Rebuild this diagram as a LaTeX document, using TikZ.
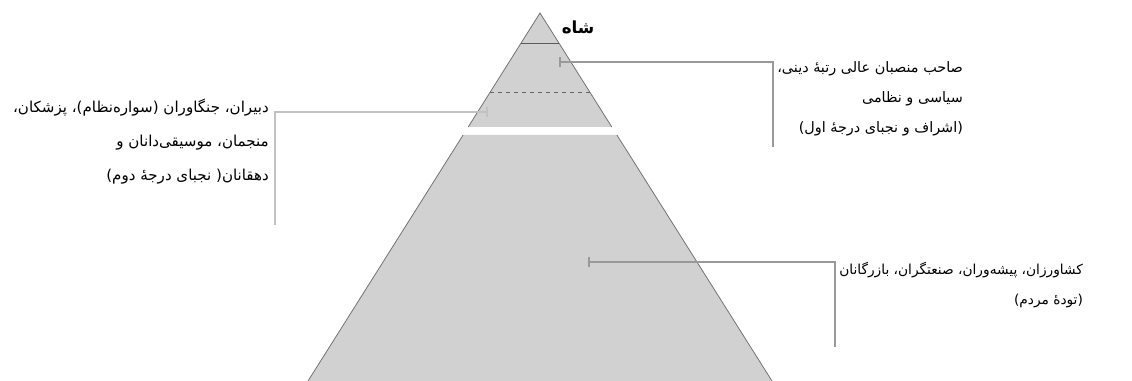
\documentclass[tikz,border=0pt]{standalone}
\usepackage{fontspec}
\newfontfamily\arabicfont[Script=Arabic]{DejaVu Sans}
\TeXXeTstate=1
\usetikzlibrary{arrows.meta,positioning}

\begin{document}
\begin{tikzpicture}[
  x=0.75pt, y=-0.75pt,
  layer/.style={fill=black!18},
  edge/.style={draw=black!55, line width=0.6pt},
  lbl/.style={font=\arabicfont\fontsize{10.3}{22.5}\selectfont, align=right, inner sep=0pt},
  call/.style={draw=black!40, line width=1.8pt, {Bar[width=8pt,line width=1.8pt]}-},
  calllight/.style={call, draw=black!24, line width=2.2pt},
]
\useasboundingbox (0,0) rectangle (1132,381);

% pyramid: apex block and the people below the gap
\fill[layer] (540,13) -- (611.8,127) -- (468.2,127) -- cycle;
\draw[edge] (468.2,127) -- (540,13) -- (611.8,127);
\fill[layer] (463.1,135) -- (616.9,135) -- (772,381) -- (308,381) -- cycle;
\draw[edge] (308,381) -- (463.1,135);
\draw[edge] (616.9,135) -- (772,381);
\draw[black!65, line width=0.6pt] (521,43) -- (559,43);
\draw[black!60, line width=0.6pt, dashed] (490,92) -- (590,92);

\node[font=\arabicfont\bfseries\fontsize{12.5}{15}\selectfont, inner sep=0pt] (shah) at (578,27) {\beginR شاه\endR};

% first rank
\coordinate (highTick) at (559,62);
\coordinate (highBend) at (773,62);
\coordinate (highEnd) at (773,147);
\node[lbl, anchor=north west, font=\arabicfont\fontsize{10.8}{22.5}\selectfont] (high) at (777,61)
  {\beginR صاحب منصبان عالی رتبهٔ دینی،\endR\\
   \beginR سیاسی و نظامی\endR\\
   \beginR (اشراف و نجبای درجهٔ اول)\endR};
\draw[call] (highTick) -- (highBend) -- (highEnd);

% second rank
\coordinate (midTick) at (488,112);
\coordinate (midBend) at (275,112);
\coordinate (midEnd) at (275,225);
\node[lbl, anchor=north east, font=\arabicfont\fontsize{11.3}{25.3}\selectfont] (mid) at (269,99)
  {\beginR دبیران، جنگاوران (سواره‌نظام)، پزشکان،\endR\\
   \beginR منجمان، موسیقی‌دانان و\endR\\
   \beginR دهقانان( نجبای درجهٔ دوم)\endR};
\draw[calllight] (midTick) -- (midBend) -- (midEnd);

% common people
\coordinate (lowTick) at (588,262);
\coordinate (lowBend) at (835,262);
\coordinate (lowEnd) at (835,347);
\node[lbl, anchor=north west] (low) at (839,262)
  {\beginR کشاورزان، پیشه‌وران، صنعتگران، بازرگانان\endR\\
   \beginR (تودهٔ مردم)\endR};
\draw[call] (lowTick) -- (lowBend) -- (lowEnd);
\end{tikzpicture}
\end{document}
